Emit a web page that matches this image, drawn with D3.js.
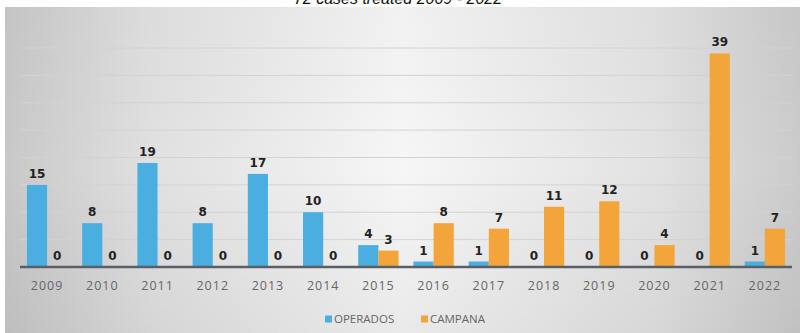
<!DOCTYPE html>
<html>
<head>
<meta charset="utf-8">
<script src="https://cdn.jsdelivr.net/npm/d3@7"></script>
<style>
  body { margin: 0; padding: 0; background: #fff; }
  svg { display: block; }
</style>
</head>
<body>
<svg id="chart"></svg>
<script>
// data
const years = ["2009", "2010", "2011", "2012", "2013", "2014", "2015", "2016", "2017", "2018", "2019", "2020", "2021", "2022"];
const operados = [15, 8, 19, 8, 17, 10, 4, 1, 1, 0, 0, 0, 0, 1];
const campana = [0, 0, 0, 0, 0, 0, 3, 8, 7, 11, 12, 4, 39, 7];
const seriesNames = ["OPERADOS", "CAMPANA"];
const gridTicks = [5, 10, 15, 20, 25, 30, 35, 40];

const width = 800, height = 333;
const colors = { OPERADOS: "#4aaee0", CAMPANA: "#f3a43a" };

let svg = d3.select("#chart")
    .attr("width", width)
    .attr("height", height);

// grey background: darker at the sides, light in the middle
const defs = svg.append("defs");
const grad = defs.append("linearGradient")
    .attr("id", "bg")
    .attr("x1", "0%").attr("x2", "100%")
    .attr("y1", "0%").attr("y2", "0%");
grad.append("stop").attr("offset", "0%").attr("stop-color", "#c8c8c8");
grad.append("stop").attr("offset", "18%").attr("stop-color", "#e0e0e0");
grad.append("stop").attr("offset", "50%").attr("stop-color", "#f6f6f6");
grad.append("stop").attr("offset", "82%").attr("stop-color", "#e2e2e2");
grad.append("stop").attr("offset", "100%").attr("stop-color", "#cbcbcb");

const vgrad = defs.append("linearGradient")
    .attr("id", "shade")
    .attr("x1", "0%").attr("x2", "0%")
    .attr("y1", "0%").attr("y2", "100%");
vgrad.append("stop").attr("offset", "0%").attr("stop-color", "#000").attr("stop-opacity", 0.02);
vgrad.append("stop").attr("offset", "50%").attr("stop-color", "#000").attr("stop-opacity", 0);
vgrad.append("stop").attr("offset", "100%").attr("stop-color", "#000").attr("stop-opacity", 0.05);

svg.append("rect")
    .attr("x", 5).attr("y", 7)
    .attr("width", width - 5).attr("height", height - 7)
    .attr("fill", "url(#bg)");
svg.append("rect")
    .attr("x", 5).attr("y", 7)
    .attr("width", width - 5).attr("height", height - 7)
    .attr("fill", "url(#shade)");

// title, cut at the top edge as in the source
svg.append("text")
    .attr("x", 398)
    .attr("y", 4)
    .attr("text-anchor", "middle")
    .style("font-family", "Liberation Sans, Arial, sans-serif")
    .style("font-style", "italic")
    .style("font-size", "16px")
    .attr("fill", "#111")
    .text("72 cases treated 2009 - 2022");

// scales
const x = d3.scaleBand()
    .domain(years)
    .range([19.5, 792.5])
    .paddingInner(0.27)
    .paddingOuter(0.135);

const xs = d3.scaleBand()
    .domain(seriesNames)
    .range([0, x.bandwidth()]);

const y = d3.scaleLinear()
    .domain([0, 40])
    .range([267, 48]);

// gridlines
svg.append("g")
    .selectAll("line")
    .data(gridTicks)
    .enter().append("line")
    .attr("x1", 20)
    .attr("x2", 792)
    .attr("y1", d => y(d))
    .attr("y2", d => y(d))
    .attr("stroke", "#d2d2d2")
    .attr("stroke-width", 1);

// bars
const rows = years.map((yr, i) => ({ year: yr, OPERADOS: operados[i], CAMPANA: campana[i] }));

let groups = svg.append("g")
    .selectAll(".year")
    .data(rows)
    .enter().append("g")
    .attr("class", "year")
    .attr("transform", d => "translate(" + x(d.year) + ",0)");

groups.selectAll("rect")
    .data(d => seriesNames.map(k => ({ key: k, value: d[k] })))
    .enter().append("rect")
    .attr("x", d => xs(d.key))
    .attr("width", xs.bandwidth())
    .attr("y", d => y(d.value))
    .attr("height", d => y(0) - y(d.value))
    .attr("fill", d => colors[d.key]);

groups.selectAll(".lbl")
    .data(d => seriesNames.map(k => ({ key: k, value: d[k] })))
    .enter().append("text")
    .attr("class", "lbl")
    .attr("x", d => xs(d.key) + xs.bandwidth() / 2)
    .attr("y", d => y(d.value) - 7)
    .attr("text-anchor", "middle")
    .style("font-family", "DejaVu Sans, sans-serif")
    .style("font-weight", "bold")
    .style("font-size", "12px")
    .attr("fill", "#222")
    .text(d => d.value);

// x axis
const xAxis = svg.append("g")
    .attr("transform", "translate(0," + y(0) + ")")
    .call(d3.axisBottom(x).tickSize(0).tickPadding(14));

xAxis.select(".domain")
    .attr("d", "M20,0H792")
    .attr("stroke", "#5a5f66")
    .attr("stroke-width", 2.5);

xAxis.selectAll("text")
    .style("font-family", "Open Sans, sans-serif")
    .style("font-size", "12.5px")
    .style("letter-spacing", "1px")
    .attr("fill", "#666");

// legend
const legend = svg.append("g")
    .attr("transform", "translate(325,319)");

const legendX = [0, 96];
seriesNames.forEach((name, i) => {
    legend.append("rect")
        .attr("x", legendX[i])
        .attr("y", -3.5)
        .attr("width", 7)
        .attr("height", 7)
        .attr("fill", colors[name]);
    legend.append("text")
        .attr("x", legendX[i] + 9)
        .attr("y", 0)
        .attr("dy", "0.35em")
        .style("font-family", "Open Sans, sans-serif")
        .style("font-size", "11.5px")
        .attr("fill", "#666")
        .text(name);
});
</script>
</body>
</html>
